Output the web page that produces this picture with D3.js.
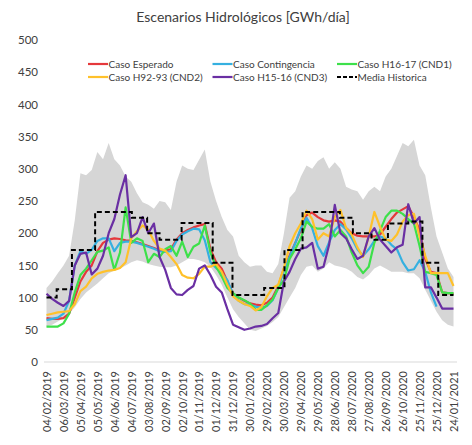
<!DOCTYPE html>
<html>
<head>
<meta charset="utf-8">
<script src="https://cdn.jsdelivr.net/npm/d3@7"></script>
<style>
  body { margin: 0; background: #fff; }
  text { font-family: Lato, "Open Sans", sans-serif; fill: #404040; }
</style>
</head>
<body>
<div id="chart"></div>
<script>
// serie semanal aprox. (cada 10 dias desde 04/02/2019)
var startDate = new Date(2019, 1, 4);
var stepDays = 10;

var casoEsperado = [68, 67, 67, 68, 75, 100, 125, 140, 150, 172, 185, 190, 192, 191, 189, 188, 186, 183, 180, 177,
    174, 173, 175, 190, 200, 205, 209, 212, 214, 175, 155, 145, 125, 106, 100, 95, 91, 89, 88, 92,
    100, 118, 145, 165, 185, 205, 228, 232, 225, 220, 218, 220, 218, 208, 200, 196, 195, 195, 195, 198,
    210, 222, 232, 237, 242, 225, 205, 160, 140, 138, 108, 107, 106];
var casoContingencia = [65, 67, 69, 75, 95, 150, 172, 168, 174, 188, 192, 192, 172, 185, 187, 187, 185, 182, 179, 176,
    172, 171, 172, 188, 198, 203, 207, 206, 189, 155, 146, 138, 127, 105, 95, 90, 89, 86, 84, 87,
    96, 115, 142, 163, 184, 208, 224, 208, 180, 165, 186, 205, 214, 206, 192, 175, 165, 175, 188, 195,
    192, 182, 175, 155, 142, 144, 158, 140, 108, 86, null, null, null];
var casoCND1 = [55, 55, 55, 60, 75, 108, 135, 145, 158, 171, 173, 178, 143, 170, 240, 185, 192, 188, 155, 168,
    163, 175, 180, 165, 187, 163, 179, 184, 212, 170, 148, 133, 115, 107, 100, 96, 91, 81, 81, 88,
    97, 115, 127, 160, 175, 192, 218, 210, 207, 207, 214, 195, 205, 195, 170, 150, 138, 148, 185, 204,
    225, 235, 235, 230, 222, 215, 180, 140, 138, 135, 108, 107, 107];
var casoCND2 = [73, 75, 77, 78, 79, 90, 110, 117, 130, 137, 140, 142, 143, 146, 155, 192, 203, 212, 205, 188,
    176, 173, 163, 152, 135, 131, 130, 137, 148, 148, 152, 140, 120, 102, 95, 90, 87, 80, 85, 102,
    115, 120, 146, 180, 200, 215, 235, 222, 190, 200, 195, 225, 236, 208, 198, 178, 163, 195, 233, 210,
    190, 188, 198, 218, 228, 230, 195, 165, 138, 138, 138, 138, 118];
var casoCND3 = [106, 98, 92, 87, 95, 150, 168, 170, 136, 145, 165, 200, 222, 260, 290, 194, 200, 225, 200, 215,
    163, 143, 115, 105, 104, 112, 118, 145, 150, 135, 117, 108, 82, 58, 54, 50, 52, 55, 56, 59,
    68, 76, 125, 140, 160, 176, 178, 185, 145, 148, 182, 244, 200, 192, 175, 160, 165, 195, 208, 190,
    180, 170, 178, 182, 245, 215, 225, 116, 116, 100, 83, 83, 83];
var histMax = [115, 125, 138, 150, 165, 220, 293, 290, 298, 326, 315, 340, 315, 305, 288, 280, 262, 248, 244, 238,
    250, 248, 236, 280, 305, 300, 298, 314, 330, 280, 250, 225, 205, 195, 165, 155, 148, 150, 150, 140,
    138, 152, 200, 255, 265, 288, 305, 300, 312, 318, 300, 310, 300, 272, 268, 265, 252, 265, 272, 265,
    288, 300, 320, 340, 335, 345, 305, 290, 240, 195, 170, 145, 132];
var histMin = [55, 58, 63, 68, 75, 85, 98, 108, 115, 122, 130, 138, 142, 145, 150, 155, 158, 156, 152, 150,
    148, 147, 147, 150, 155, 160, 160, 158, 155, 148, 135, 120, 100, 82, 70, 60, 50, 48, 52, 56,
    62, 70, 85, 100, 115, 135, 148, 150, 140, 145, 155, 150, 148, 145, 140, 132, 128, 135, 145, 150,
    145, 140, 140, 140, 138, 138, 130, 112, 95, 78, 65, 58, 55];

// media historica (escalones): dia desde el inicio -> valor
var mediaDays = [0, 18, 45, 86, 151, 178, 200, 239, 294, 329, 385, 421, 453, 519, 542, 575, 604, 640, 665, 693, 720];
var mediaValues = [100, 113, 174, 233, 224, 200, 190, 216, 154, 104, 115, 174, 233, 224, 200, 190, 215, 218, 154, 104, 104];

var seriesNames = ["Caso Esperado", "Caso Contingencia", "Caso H16-17 (CND1)", "Caso H92-93 (CND2)", "Caso H15-16 (CND3)", "Media Historica"];
var seriesColors = ["#e5383b", "#35b0e0", "#3de04a", "#ffc12a", "#6a2fa3", "#000000"];
var yTicks = [0, 50, 100, 150, 200, 250, 300, 350, 400, 450, 500];

var width = 472, height = 445;
var svg = d3.select("#chart").append("svg")
    .attr("width", width)
    .attr("height", height);
svg.append("rect").attr("width", width).attr("height", height).attr("fill", "#fff");

var endDate = d3.timeDay.offset(startDate, 720);
var x = d3.scaleTime().domain([startDate, endDate]).range([46.5, 453.5]);
var y = d3.scaleLinear().domain([0, 500]).range([362, 40]);

var dates = casoEsperado.map(function(d, i) { return d3.timeDay.offset(startDate, i * stepDays); });

// titulo
svg.append("text")
    .attr("x", 243).attr("y", 22)
    .attr("text-anchor", "middle")
    .style("font-size", "14px")
    .text("Escenarios Hidrológicos [GWh/día]");

// eje y
var yAxis = svg.append("g")
    .attr("transform", "translate(38,0)")
    .call(d3.axisLeft(y).tickValues(yTicks).tickSize(0).tickPadding(0));
yAxis.select(".domain").remove();
yAxis.selectAll("text").style("font-size", "11.5px").style("font-family", "Lato, sans-serif").attr("fill", "#404040");

// banda historica
var area = d3.area()
    .x(function(d, i) { return x(dates[i]); })
    .y0(function(d, i) { return y(histMin[i]); })
    .y1(function(d) { return y(d); });
svg.append("path")
    .datum(histMax)
    .attr("fill", "#d6d6d6")
    .attr("d", area);

// linea base
svg.append("line")
    .attr("x1", 44).attr("x2", 457)
    .attr("y1", y(0)).attr("y2", y(0))
    .attr("stroke", "#d9d9d9").attr("stroke-width", 1);

// eje x
var xTicks = d3.range(0, 721, 30).map(function(d) { return d3.timeDay.offset(startDate, d); });
var xAxis = svg.append("g")
    .attr("transform", "translate(0," + y(0) + ")")
    .call(d3.axisBottom(x).tickValues(xTicks).tickSize(0).tickFormat(d3.timeFormat("%d/%m/%Y")));
xAxis.select(".domain").remove();
xAxis.selectAll("text")
    .attr("transform", "rotate(-90)")
    .attr("x", -9).attr("y", 0).attr("dy", "0.35em")
    .style("text-anchor", "end")
    .style("font-size", "11px")
    .style("font-family", "Lato, sans-serif")
    .attr("fill", "#404040");

// lineas de escenarios
var line = d3.line()
    .defined(function(d) { return d != null; })
    .x(function(d, i) { return x(dates[i]); })
    .y(function(d) { return y(d); });

var scenarios = [casoEsperado, casoContingencia, casoCND1, casoCND2, casoCND3];
scenarios.forEach(function(s, i) {
    svg.append("path")
        .datum(s)
        .attr("fill", "none")
        .attr("stroke", seriesColors[i])
        .attr("stroke-width", 2.2)
        .attr("stroke-linejoin", "round")
        .attr("d", line);
});

// media historica
var mediaLine = d3.line()
    .curve(d3.curveStepAfter)
    .x(function(d, i) { return x(d3.timeDay.offset(startDate, mediaDays[i])); })
    .y(function(d) { return y(d); });
svg.append("path")
    .datum(mediaValues)
    .attr("fill", "none")
    .attr("stroke", "#000")
    .attr("stroke-width", 2)
    .attr("stroke-dasharray", "5,3")
    .attr("d", mediaLine);

// leyenda
var legend = svg.append("g");
seriesNames.forEach(function(name, i) {
    var col = i % 3, row = Math.floor(i / 3);
    var lx = 88 + col * 124.5, ly = 64 + row * 13;
    legend.append("line")
        .attr("x1", lx).attr("x2", lx + 20)
        .attr("y1", ly).attr("y2", ly)
        .attr("stroke", seriesColors[i])
        .attr("stroke-width", 2.2)
        .attr("stroke-dasharray", i == 5 ? "4,2" : null);
    legend.append("text")
        .attr("x", lx + 20.5).attr("y", ly)
        .attr("dy", "0.35em")
        .style("font-size", "10px")
        .text(name);
});
</script>
</body>
</html>
